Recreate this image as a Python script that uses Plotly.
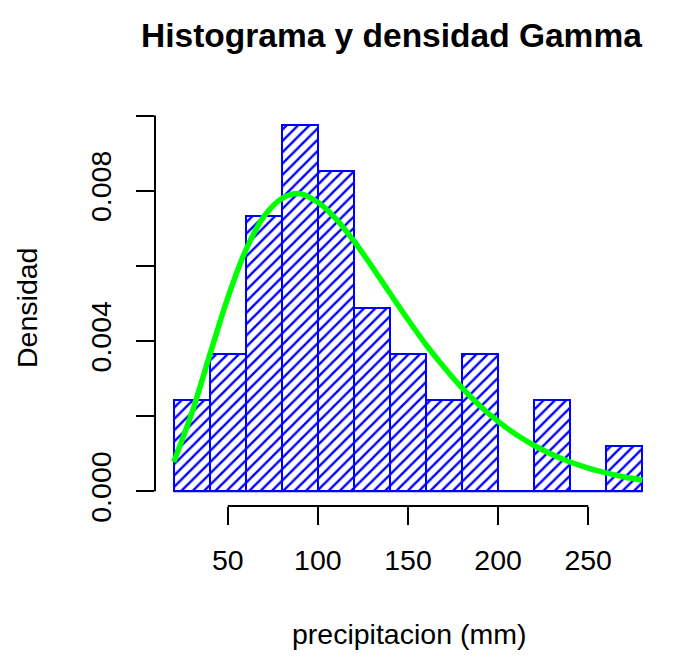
import plotly.graph_objects as go

# histogram bins (mm) and counts per bin
bin_edges = [20, 40, 60, 80, 100, 120, 140, 160, 180, 200, 220, 240, 260, 280]
counts = [2, 3, 6, 8, 7, 4, 3, 2, 3, 0, 2, 0, 1]

# fitted gamma density
curve_x = [20, 30, 40, 50, 60, 70, 80, 90, 100, 110, 120, 130, 140, 150,
           160, 170, 180, 190, 200, 210, 220, 230, 240, 250, 260, 270, 280]
curve_y = [0.00078, 0.00208, 0.00363, 0.00515, 0.00642, 0.00731, 0.00779,
           0.00792, 0.00769, 0.00725, 0.00666, 0.00598, 0.00527, 0.00457,
           0.00390, 0.00330, 0.00275, 0.00227, 0.00186, 0.00151, 0.00122,
           0.00098, 0.00078, 0.00062, 0.00049, 0.00038, 0.00030]

x_ticks = [50, 100, 150, 200, 250]
y_ticks = [0.0, 0.002, 0.004, 0.006, 0.008, 0.010]
y_ticktext = ["0.000", "", "0.004", "", "0.008", ""]

n = sum(counts)
bin_w = bin_edges[1] - bin_edges[0]
centers = [(a + b) / 2 for a, b in zip(bin_edges[:-1], bin_edges[1:])]
density = [c / (n * bin_w) for c in counts]

FONT = "Liberation Sans, Arial, sans-serif"
BLUE = "#0000FF"

fig = go.Figure()
fig.add_trace(go.Bar(
    x=centers, y=density, width=bin_w,
    marker=dict(
        color="white",
        line=dict(color=BLUE, width=2),
        pattern=dict(shape="/", fgcolor=BLUE, bgcolor="white", size=8,
                     solidity=0.3, fgopacity=1),
    ),
    hoverinfo="skip",
))
# empty bins still show as a line on the baseline
fig.add_trace(go.Scatter(
    x=[bin_edges[0], bin_edges[-1]], y=[0, 0], mode="lines",
    line=dict(color=BLUE, width=2), hoverinfo="skip",
))
fig.add_trace(go.Scatter(
    x=curve_x, y=curve_y, mode="lines",
    line=dict(color="#00FF00", width=5.5, shape="spline"),
    hoverinfo="skip",
))

xr = [bin_edges[0] - 0.04 * (bin_edges[-1] - bin_edges[0]),
      bin_edges[-1] + 0.04 * (bin_edges[-1] - bin_edges[0])]
ymax = max(density)
yr = [-0.04 * ymax, ymax * 1.04]

fig.update_layout(
    width=680, height=656,
    margin=dict(l=155, r=19, t=110, b=150),
    plot_bgcolor="white", paper_bgcolor="white",
    showlegend=False, bargap=0,
    font=dict(family=FONT, color="black", size=28.5),
    xaxis=dict(
        range=xr, tickvals=x_ticks, ticks="outside", ticklen=18, tickwidth=2,
        tickcolor="black", showgrid=False, zeroline=False, showline=False,
        tickfont=dict(size=28.5), ticklabelstandoff=11,
    ),
    yaxis=dict(
        range=yr, tickvals=y_ticks, ticktext=y_ticktext, ticks="outside",
        ticklen=18, tickwidth=2, tickcolor="black", tickangle=-90,
        showgrid=False, zeroline=False, showline=False,
        tickfont=dict(size=28.5), ticklabelstandoff=14,
    ),
)

# axis lines only across the tick span, like base R graphics
fig.add_shape(type="line", xref="x", yref="paper", x0=x_ticks[0], x1=x_ticks[-1],
              y0=0, y1=0, line=dict(color="black", width=2))
fig.add_shape(type="line", xref="paper", yref="y", x0=0, x1=0,
              y0=y_ticks[0], y1=y_ticks[-1], line=dict(color="black", width=2))

fig.add_annotation(text="<b>Histograma y densidad Gamma</b>", xref="paper", yref="paper",
                   x=0.468, y=1.187, xanchor="center", yanchor="middle",
                   showarrow=False, font=dict(size=33.5))
fig.add_annotation(text="precipitacion (mm)", xref="paper", yref="paper",
                   x=0.502, y=-0.323, xanchor="center", yanchor="middle",
                   showarrow=False, font=dict(size=28.5))
fig.add_annotation(text="Densidad", xref="paper", yref="paper",
                   x=-0.253, y=0.5, xanchor="center", yanchor="middle",
                   textangle=-90, showarrow=False, font=dict(size=28.5))

# page body has a default margin that offsets the figure
fig.write_html("out.html", config={"displayModeBar": False},
               post_script="document.body.style.margin='0';")
